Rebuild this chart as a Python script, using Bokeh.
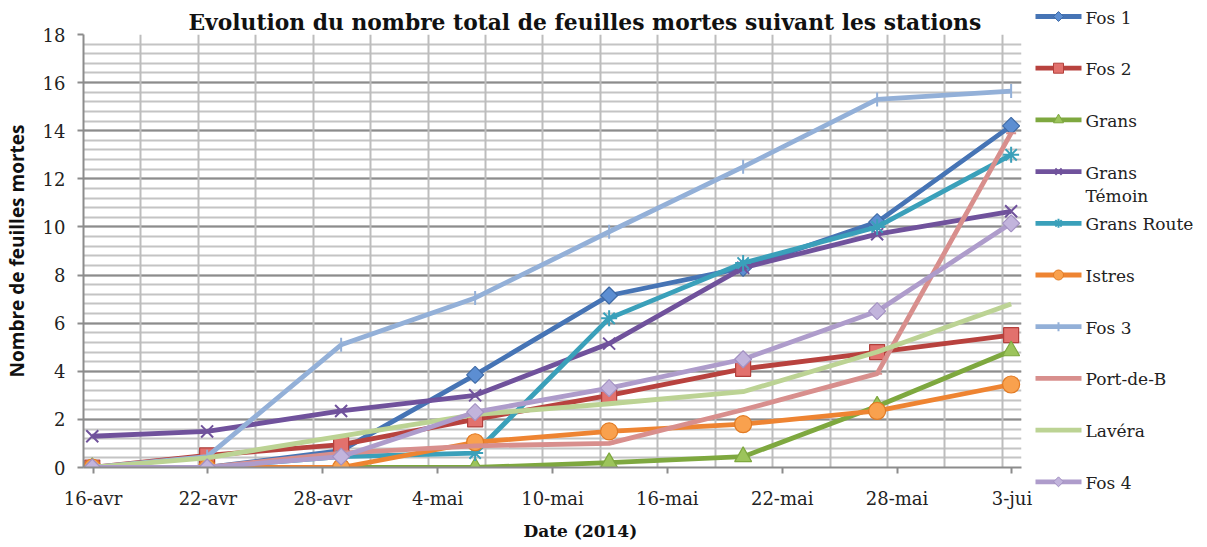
import math
import pandas as pd
from bokeh.plotting import figure
from bokeh.layouts import row
from bokeh.models import Range1d, FixedTicker, SingleIntervalTicker, Grid, Title
from bokeh.core.properties import value
from bokeh.embed import file_html
from bokeh.resources import INLINE

# ---- data ----
dates = ["2014-04-16", "2014-04-22", "2014-04-29", "2014-05-06",
         "2014-05-13", "2014-05-20", "2014-05-27", "2014-06-03"]
fos1 = [0, 0, 0.7, 3.85, 7.15, 8.3, 10.2, 14.2]
fos2 = [0, 0.5, 0.95, 2.0, 3.0, 4.1, 4.8, 5.5]
grans = [0, 0, 0, 0, 0.2, 0.45, 2.55, 4.85]
grans_temoin = [1.3, 1.5, 2.35, 3.0, 5.15, 8.3, 9.7, 10.65]
grans_route = [0, 0, 0.45, 0.6, 6.2, 8.5, 10.0, 13.0]
istres = [0, 0, 0, 1.05, 1.5, 1.8, 2.35, 3.45]
fos3 = [0, 0.45, 5.1, 7.05, 9.8, 12.5, 15.3, 15.65]
port_de_b = [0, 0, 0.6, 0.9, 1.0, 2.4, 3.9, 13.9]
lavera = [0, 0.4, 1.3, 2.2, 2.65, 3.15, 4.8, 6.8]
fos4 = [0, 0, 0.45, 2.3, 3.3, 4.5, 6.5, 10.15]

tick_dates = ["2014-04-16", "2014-04-22", "2014-04-28", "2014-05-04", "2014-05-10",
              "2014-05-16", "2014-05-22", "2014-05-28", "2014-06-03"]
tick_labels = ["16-avr", "22-avr", "28-avr", "4-mai", "10-mai",
               "16-mai", "22-mai", "28-mai", "3-jui"]

start = pd.Timestamp("2014-04-16")
end = pd.Timestamp("2014-06-04")

def hours(d, h=0):
    return int((pd.Timestamp(d) - start) / pd.Timedelta(hours=1)) + h

x = [hours(d, 11) for d in dates]
x_end = hours(end)

SERIF = "DejaVu Serif"
H = 535

p = figure(frame_width=938, frame_height=433, output_backend="svg", toolbar_location=None,
           x_range=Range1d(0, x_end), y_range=Range1d(0, 18),
           min_border_left=76, min_border_right=12, min_border_top=34, min_border_bottom=68,
           background_fill_color="white", border_fill_color="white", outline_line_color=None)
p.frame_align = False

p.title.text = "Evolution du nombre total de feuilles mortes suivant les stations"
p.title.text_font = SERIF
p.title.text_font_style = "bold"
p.title.text_font_size = "21.8px"
p.title.text_color = "#111111"
p.title.align = "left"
p.title.offset = 105
p.title.standoff = 0

# grids
p.xgrid.visible = False
p.ygrid.ticker = SingleIntervalTicker(interval=2, num_minor_ticks=5)
p.ygrid.grid_line_color = "#8C8C8C"
p.ygrid.grid_line_width = 2
p.ygrid.minor_grid_line_color = "#C4C4C4"
p.ygrid.minor_grid_line_width = 2
vgrid = Grid(dimension=0, ticker=FixedTicker(ticks=list(range(0, x_end + 1, 72))),
             grid_line_color="#BDBDBD", grid_line_width=2)
p.add_layout(vgrid)

# axes
xa = p.xaxis[0]
xa.ticker = FixedTicker(ticks=[hours(d, 12) for d in tick_dates])
xa.major_label_overrides = {hours(d, 12): lab for d, lab in zip(tick_dates, tick_labels)}
ya = p.yaxis[0]
ya.ticker = SingleIntervalTicker(interval=2, num_minor_ticks=0)
ya.axis_label = "Nombre de feuilles mortes"
for ax in (xa, ya):
    ax.axis_line_color = "#8C8C8C"
    ax.axis_line_width = 2
    ax.major_tick_line_color = "#8C8C8C"
    ax.major_tick_line_width = 2
    ax.major_tick_out = 6
    ax.major_tick_in = 0
    ax.minor_tick_line_color = None
    ax.major_label_text_font = SERIF
    ax.major_label_text_font_size = "18px"
    ax.major_label_text_color = "#222222"
    ax.axis_label_text_color = "#111111"
xa.major_label_standoff = 14
ya.major_label_standoff = 12
ya.axis_label_standoff = 10
ya.axis_label_text_font = "Open Sans"
ya.axis_label_text_font_style = "bold"
ya.axis_label_text_font_size = "19px"

# x-axis title (placed below the axis, shifted like the reference)
p.add_layout(Title(text="Date (2014)", align="left", offset=440, standoff=15,
                   text_font=SERIF, text_font_style="bold", text_font_size="17px",
                   text_color="#111111"), "below")

# series: (label, values, line colour, marker, fill, marker line colour, size, angle, legend size)
series = [
    ("Fos 1", fos1, "#4674B5", "square", "#5C8ED2", "#3E6AA6", 12, math.pi / 4, 7),
    ("Fos 2", fos2, "#B8423E", "square", "#E2716D", "#B3403C", 15, 0, 10),
    ("Grans", grans, "#7EA83F", "triangle", "#9CC45B", "#7EA83F", 17, 0, 10),
    ("Grans\nTémoin", grans_temoin, "#70529C", "x", None, "#70529C", 17, 0, 9),
    ("Grans Route", grans_route, "#3AA0BA", "asterisk", None, "#3AA0BA", 16, 0, 9),
    ("Istres", istres, "#EE8432", "circle", "#F9A14E", "#E27B24", 17, 0, 10),
    ("Fos 3", fos3, "#93B0D8", "dash", None, "#93B0D8", 14, math.pi / 2, 9),
    ("Port-de-B", port_de_b, "#D88F8D", "dash", None, "#D88F8D", 10, 0, 0),
    ("Lavéra", lavera, "#BCD394", None, None, None, 0, 0, 0),
    ("Fos 4", fos4, "#AE9CCB", "square", "#C2B4DC", "#A391C2", 12, math.pi / 4, 7),
]

# ---- legend panel (separate figure to the right) ----
LW = 165
lg = figure(width=LW, height=H, output_backend="svg", toolbar_location=None,
            x_range=Range1d(0, LW), y_range=Range1d(H, 0),
            min_border=0, outline_line_color=None,
            background_fill_color="white", border_fill_color="white")
lg.frame_align = False
lg.axis.visible = False
lg.grid.visible = False

for i, (label, vals, lc, mk, fc, mlc, size, ang, lsize) in enumerate(series):
    p.line(x, vals, line_color=lc, line_width=4.8, line_join="round")
    if mk is not None:
        p.scatter(x, vals, marker=mk, size=size, angle=ang,
                  fill_color=fc, line_color=mlc, line_width=2 if fc is None else 1.2)
    yy = 16 + 51.7 * i
    lg.line([2, 48], [yy, yy], line_color=lc, line_width=4.8)
    if mk is not None and lsize:
        lg.scatter([25], [yy], marker=mk, size=lsize, angle=ang,
                   fill_color=fc, line_color=mlc, line_width=2 if fc is None else 1)
    lg.text([52], [yy - 9], text=[label], text_font=value(SERIF), text_font_size="17px",
            text_color="#222222", text_baseline="top", text_align="left",
            text_line_height=1.15)

layout = row(p, lg)
open("out.html", "w").write(file_html(layout, INLINE))
